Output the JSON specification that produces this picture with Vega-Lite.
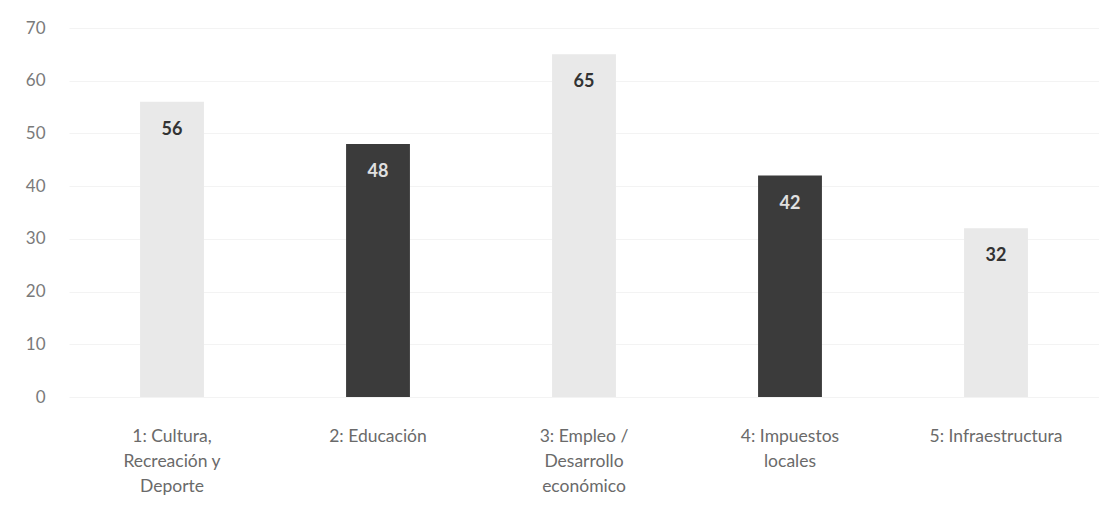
{
  "$schema": "https://vega.github.io/schema/vega-lite/v6.json",
  "autosize": "none",
  "width": 1030,
  "height": 369,
  "padding": {"left": 69, "top": 28, "right": 0, "bottom": 114},
  "background": "#ffffff",
  "data": {"values": [
    {"cat": "1: Cultura,|Recreación y|Deporte", "value": 56},
    {"cat": "2: Educación", "value": 48},
    {"cat": "3: Empleo /|Desarrollo|económico", "value": 65},
    {"cat": "4: Impuestos|locales", "value": 42},
    {"cat": "5: Infraestructura", "value": 32}
  ]},
  "config": {"view": {"stroke": null}, "font": "Lato"},
  "resolve": {"scale": {"color": "independent"}},
  "encoding": {
    "x": {"field": "cat", "type": "nominal", "sort": null,
      "scale": {"paddingInner": 0.69, "paddingOuter": 0.345},
      "axis": {"title": null, "labelAngle": 0, "domain": false, "ticks": false,
        "labelExpr": "split(datum.label, '|')", "labelFontSize": 17.5, "labelColor": "#6a6a6a",
        "labelPadding": 30, "labelLineHeight": 25, "labelFont": "Lato", "labelBaseline": "top"}},
    "y": {"field": "value", "type": "quantitative",
      "scale": {"domain": [0, 70]},
      "axis": {"title": null, "values": [0,10,20,30,40,50,60,70], "labelOverlap": false, "domain": false, "ticks": false,
        "labelFontSize": 17, "labelColor": "#7a7a7a", "labelPadding": 24, "labelFont": "Lato",
        "grid": true, "gridColor": "#f3f3f3", "gridWidth": 1}}
  },
  "layer": [
    {"mark": {"type": "bar"},
     "encoding": {"color": {"field": "cat", "type": "nominal", "sort": null, "legend": null,
       "scale": {"range": ["#e9e9e9", "#3b3b3b", "#e9e9e9", "#3b3b3b", "#e9e9e9"]}}}},
    {"mark": {"type": "text", "dy": 28, "baseline": "middle", "fontSize": 18, "fontWeight": "bold", "font": "Lato"},
     "encoding": {"text": {"field": "value", "type": "quantitative"},
       "color": {"field": "cat", "type": "nominal", "sort": null, "legend": null,
         "scale": {"range": ["#333333", "#e0e0e0", "#333333", "#e0e0e0", "#333333"]}}}}
  ]
}
